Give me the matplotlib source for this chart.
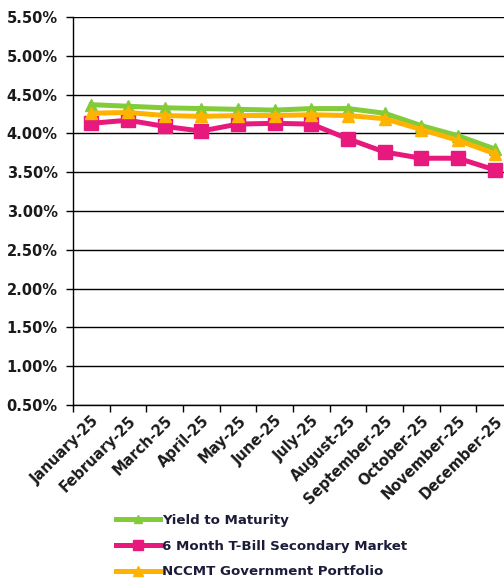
import matplotlib
matplotlib.use("Agg")
import matplotlib.pyplot as plt
from matplotlib.ticker import FixedLocator

months = ["January-25", "February-25", "March-25", "April-25", "May-25", "June-25",
          "July-25", "August-25", "September-25", "October-25", "November-25", "December-25"]
ytm = [4.37, 4.35, 4.33, 4.32, 4.31, 4.30, 4.32, 4.32, 4.26, 4.10, 3.97, 3.80]
tbill = [4.13, 4.17, 4.09, 4.03, 4.12, 4.13, 4.12, 3.93, 3.76, 3.68, 3.68, 3.53]
nccmt = [4.26, 4.27, 4.23, 4.22, 4.23, 4.23, 4.24, 4.23, 4.19, 4.05, 3.91, 3.74]
yticks = [0.5, 1.0, 1.5, 2.0, 2.5, 3.0, 3.5, 4.0, 4.5, 5.0, 5.5]

fig = plt.figure(figsize=(5.04, 5.81), dpi=100)
ax = fig.add_axes([73/504, 1-405/581, (513-73)/504, (405-17)/581])

x = list(range(len(months)))
ax.plot(x, ytm, color="#82cc3a", lw=3.6, marker="^", ms=8, label="Yield to Maturity", zorder=3)
ax.plot(x, tbill, color="#e8197c", lw=3.6, marker="s", ms=9.5, label="6 Month T-Bill Secondary Market", zorder=4)
ax.plot(x, nccmt, color="#ffb300", lw=3.6, marker="^", ms=9, label="NCCMT Government Portfolio", zorder=5)

ax.set_xlim(-0.5, len(months) - 0.5)
ax.set_ylim(0.5, 5.5)
ax.set_yticks(yticks)
ax.set_yticklabels([f"{v:.2f}%" for v in yticks], fontsize=10.5, fontweight="bold", color="#1a1a1a")
for v in yticks:
    ax.axhline(v, color="black", lw=1.0, zorder=1)

ax.set_xticks(x)
ax.set_xticklabels(months, rotation=45, ha="right", rotation_mode="anchor",
                   fontsize=10.5, fontweight="bold", color="#1a1a1a")
ax.tick_params(axis="x", which="major", length=0, pad=6)
ax.xaxis.set_minor_locator(FixedLocator([i - 0.5 for i in range(len(months) + 1)]))
ax.tick_params(axis="x", which="minor", length=5, width=1, color="black", direction="out")
ax.tick_params(axis="y", length=5, width=1, color="black", direction="out", pad=6)

for s in ["top", "right"]:
    ax.spines[s].set_visible(False)
ax.spines["left"].set_color("black")
ax.spines["bottom"].set_color("black")
ax.spines["left"].set_linewidth(1.0)
ax.spines["bottom"].set_linewidth(1.0)

handles, labels = ax.get_legend_handles_labels()
leg = fig.legend(handles, labels, loc="upper left", bbox_to_anchor=(104/504, 1-502/581),
                 frameon=False, handlelength=3.3, handletextpad=0.15, labelspacing=0.95,
                 prop={"size": 9.6, "weight": "bold"}, markerscale=0.8)
for t in leg.get_texts():
    t.set_color("#1c1c3a")

fig.savefig("out.png", dpi=100)
